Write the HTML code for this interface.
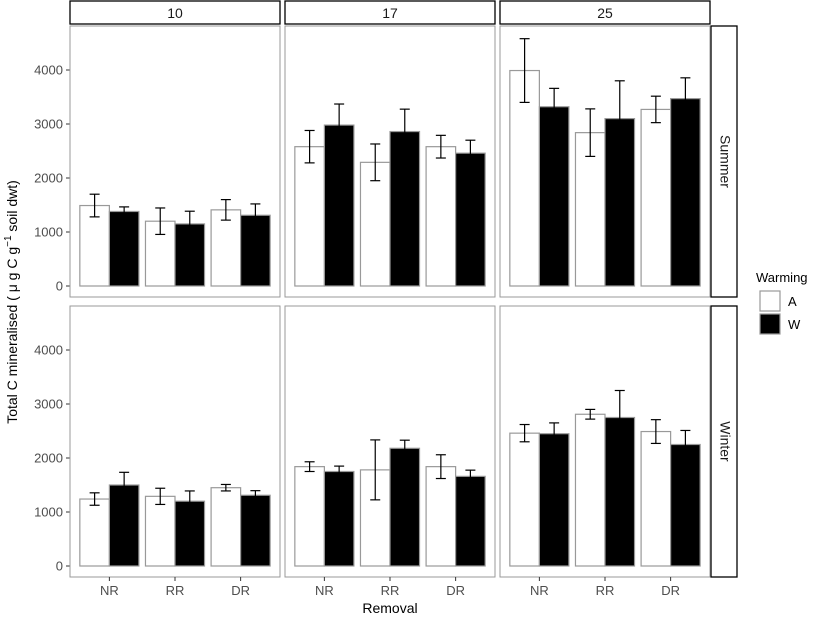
<!DOCTYPE html>
<html><head><meta charset="utf-8"><style>
body{margin:0;background:#fff;font-family:"Liberation Sans",Arial,sans-serif}
svg text{font-family:"Liberation Sans",Arial,sans-serif}
</style></head><body>
<svg id="c" width="817" height="617" xmlns="http://www.w3.org/2000/svg"></svg>
<script>
const categories=["NR","RR","DR"];
const temps=["10","17","25"];
const seasons=["Summer","Winter"];
const yTicks=[0,1000,2000,3000,4000];
// values[season][temp] = [A NR, W NR, A RR, W RR, A DR, W DR]
const summerA=[[1490,1200,1410],[2580,2290,2580],[3990,2840,3270]];
const summerW=[[1380,1150,1310],[2980,2860,2460],[3320,3100,3470]];
const summerAerr=[[210,245,190],[300,340,210],[590,440,245]];
const summerWerr=[[85,235,210],[390,415,240],[340,700,385]];
const winterA=[[1240,1290,1450],[1840,1780,1840],[2460,2810,2490]];
const winterW=[[1500,1200,1310],[1750,2180,1660],[2450,2750,2250]];
const winterAerr=[[115,150,60],[90,555,220],[160,90,220]];
const winterWerr=[[235,190,85],[100,150,115],[200,500,260]];
const NS="http://www.w3.org/2000/svg";
const svg=document.getElementById('c');
function mk(t,a,p){const e=document.createElementNS(NS,t);for(const k in a)e.setAttribute(k,a[k]);(p||svg).appendChild(e);return e;}
const colX=[70,285,500],pw=210;
const rowY=[26,306],ph=271;
function yScale(row,v){return (row===0?286:566)-v*0.054;}
function xCenter(col,i){return colX[col]+(0.6+i)*pw/3.2;}
const bw=0.45*pw/3.2;
const data=[[summerA,summerW,summerAerr,summerWerr],[winterA,winterW,winterAerr,winterWerr]];
temps.forEach((t,c)=>{
  const g=mk('g',{});
  mk('rect',{x:colX[c],y:1,width:pw,height:23,fill:'#fff',stroke:'#000','stroke-width':1.3},g);
  const tx=mk('text',{x:colX[c]+pw/2,y:18,'text-anchor':'middle','font-size':14,fill:'#1a1a1a'},g);tx.textContent=t;
});
seasons.forEach((s,r)=>{
  const g=mk('g',{});
  mk('rect',{x:711,y:rowY[r],width:26,height:ph,fill:'#fff',stroke:'#000','stroke-width':1.3},g);
  const tx=mk('text',{x:724,y:rowY[r]+ph/2,'text-anchor':'middle','font-size':14,fill:'#1a1a1a',transform:`rotate(90 724 ${rowY[r]+ph/2})`,'dominant-baseline':'middle'},g);tx.textContent=s;
  // y axis
  const ax=mk('g',{});
  yTicks.forEach(v=>{const y=yScale(r,v);
    mk('line',{x1:66,x2:70,y1:y,y2:y,stroke:'#333'},ax);
    const tt=mk('text',{x:63,y:y+4.5,'text-anchor':'end','font-size':13,fill:'#4d4d4d'},ax);tt.textContent=v;});
  temps.forEach((t,c)=>{
    const p=mk('g',{});
    mk('rect',{x:colX[c],y:rowY[r],width:pw,height:ph,fill:'#fff',stroke:'#999','stroke-width':1},p);
    const [A,W,Ae,We]=data[r];
    categories.forEach((cat,i)=>{
      const xc=xCenter(c,i);
      [[A,Ae,'#fff',xc-bw,'A'],[W,We,'#000',xc,'W']].forEach(([vals,errs,fill,x0,nm])=>{
        const v=vals[c][i],e=errs[c][i];
        const b=mk('rect',{x:x0,y:yScale(r,v),width:bw,height:yScale(r,0)-yScale(r,v),fill:fill,stroke:'#999','stroke-width':1.2},p);
        
        
        const xm=x0+bw/2,y1=yScale(r,v-e),y2=yScale(r,v+e);
        const eg=mk('g',{stroke:'#000','stroke-width':1.2},p);
        
        
        mk('line',{x1:xm,x2:xm,y1:y1,y2:y2},eg);
        mk('line',{x1:xm-5,x2:xm+5,y1:y1,y2:y1},eg);
        mk('line',{x1:xm-5,x2:xm+5,y1:y2,y2:y2},eg);
      });
      if(r===1){mk('line',{x1:xc,x2:xc,y1:577,y2:581,stroke:'#333'});
        const tt=mk('text',{x:xc,y:595,'text-anchor':'middle','font-size':13,fill:'#4d4d4d'});tt.textContent=cat;}
    });
  });
});
let t=mk('text',{x:390,y:613,'text-anchor':'middle','font-size':14,fill:'#000'});t.textContent='Removal';
t=mk('text',{x:0,y:0,'text-anchor':'middle','font-size':14,fill:'#000',transform:'translate(17 302) rotate(-90)'});
t.innerHTML='Total C mineralised ( μ g C g<tspan dy="-6" font-size="10">−1</tspan><tspan dy="6"> soil dwt)</tspan>';
const lg=mk('g',{});
t=mk('text',{x:756,y:282,'font-size':13,fill:'#000'},lg);t.textContent='Warming';
mk('rect',{x:760,y:291,width:20,height:20,fill:'#fff',stroke:'#999','stroke-width':1.2},lg);
mk('rect',{x:760,y:314,width:20,height:20,fill:'#000',stroke:'#999','stroke-width':1.2},lg);
t=mk('text',{x:788,y:306,'font-size':13,fill:'#000'},lg);t.textContent='A';
t=mk('text',{x:788,y:329,'font-size':13,fill:'#000'},lg);t.textContent='W';
</script>
</body></html>
